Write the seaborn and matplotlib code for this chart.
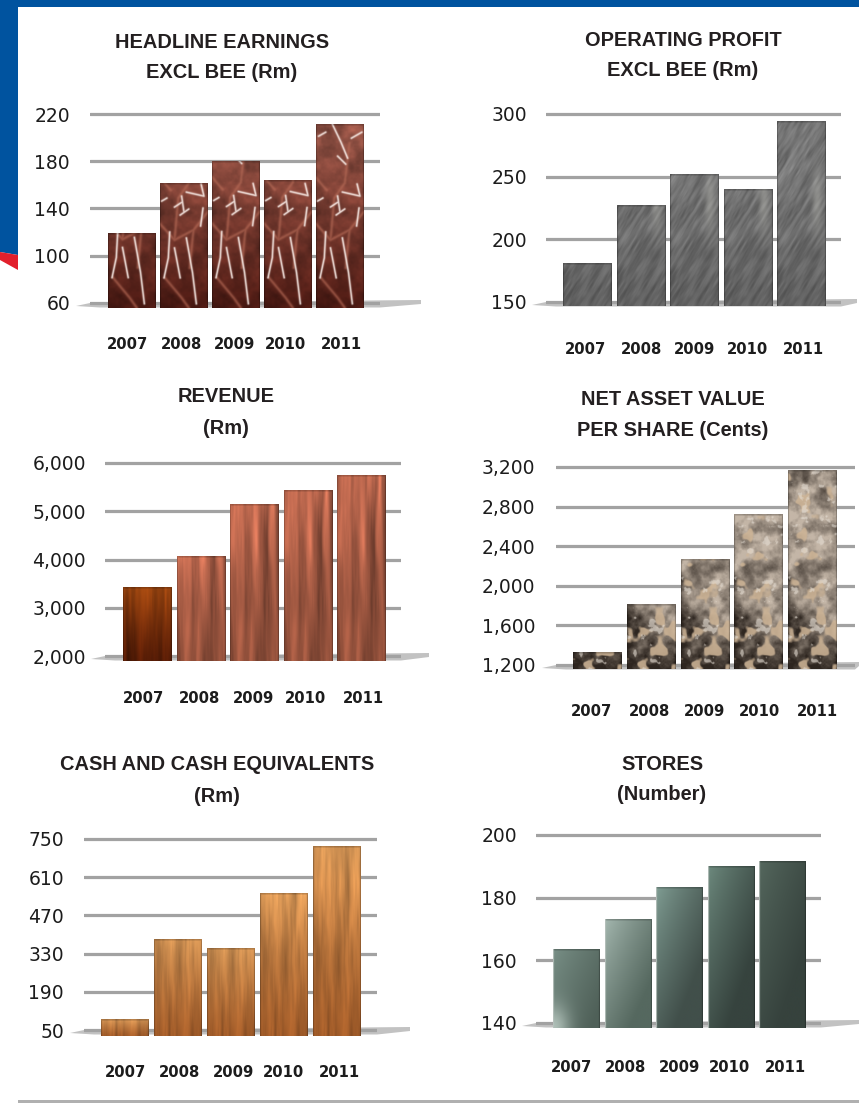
import numpy as np
import pandas as pd
import matplotlib
matplotlib.use("Agg")
import matplotlib.pyplot as plt
from matplotlib.patches import Polygon, Rectangle
from matplotlib.colors import to_rgb
import seaborn as sns

W, H = 859, 1103
years = ["2007", "2008", "2009", "2010", "2011"]

headline = [118.5, 161.5, 179.5, 163.5, 211.5]
operating = [181, 227, 252, 240, 294]
revenue = [3430, 4052, 5130, 5440, 5751]
nav = [1331, 1816, 2270, 2725, 3160]
cash = [87, 380, 347, 552, 724]
stores = [163.6, 172.9, 183.4, 189.8, 191.7]

ticks_headline = [60, 100, 140, 180, 220]
ticks_operating = [150, 200, 250, 300]
ticks_revenue = [2000, 3000, 4000, 5000, 6000]
ticks_nav = [1200, 1600, 2000, 2400, 2800, 3200]
ticks_cash = [50, 190, 330, 470, 610, 750]
ticks_stores = [140, 160, 180, 200]

title_headline = ["HEADLINE EARNINGS", "EXCL BEE (Rm)"]
title_operating = ["OPERATING PROFIT", "EXCL BEE (Rm)"]
title_revenue = ["REVENUE", "(Rm)"]
title_nav = ["NET ASSET VALUE", "PER SHARE (Cents)"]
title_cash = ["CASH AND CASH EQUIVALENTS", "(Rm)"]
title_stores = ["STORES", "(Number)"]

panels = [
    dict(vals=headline, ticks=ticks_headline, title=title_headline, tx=222, ty=(42, 72),
         gx=(90, 380), gy=(114, 303), base=308, bar0=107.5, step=52.1, bw=47.5, lab=(127, 181, 235, 286, 341),
         laby=343, tickr=70, shadow=421, kind="red"),
    dict(vals=operating, ticks=ticks_operating, title=title_operating, tx=683, ty=(39, 70),
         gx=(546, 841), gy=(114, 302), base=306, bar0=563, step=53.5, bw=49, lab=(586, 641, 695, 747, 803),
         laby=348, tickr=527, shadow=857, kind="gray"),
    dict(vals=revenue, ticks=ticks_revenue, title=title_revenue, tx=226, ty=(396, 427),
         gx=(105, 401), gy=(463, 656), base=661, bar0=123, step=53.5, bw=48.5, lab=(144, 199, 254, 306, 363),
         laby=697, tickr=86, shadow=429, kind="wood"),
    dict(vals=nav, ticks=ticks_nav, title=title_nav, tx=673, ty=(399, 429),
         gx=(556, 855), gy=(467, 665), base=669, bar0=573, step=53.8, bw=49, lab=(591, 649, 705, 760, 817),
         laby=710, tickr=535, shadow=859, kind="stone"),
    dict(vals=cash, ticks=ticks_cash, title=title_cash, tx=217, ty=(764, 795),
         gx=(84, 377), gy=(839, 1030), base=1036, bar0=101, step=53, bw=48, lab=(125, 179, 234, 284, 339),
         laby=1071, tickr=64, shadow=410, kind="oak"),
    dict(vals=stores, ticks=ticks_stores, title=title_stores, tx=662, ty=(763, 794),
         gx=(536, 821), gy=(835, 1023), base=1028, bar0=553, step=51.5, bw=47, lab=(572, 626, 680, 730, 785),
         laby=1066, tickr=517, shadow=859, kind="green"),
]

GREEN = [("#7a9188", "#4f6058"), ("#a7bab2", "#55685f"), ("#82a096", "#414f4a"),
         ("#6f8c80", "#36433e"), ("#56695f", "#36423d")]

# marble veins on the red bars: (fraction across the bar, px above its foot)
WHITE_VEINS = [
    [(0.55, 70), (0.68, 35), (0.76, 4)],
    [(0.2, 76), (0.17, 50), (0.08, 30)],
    [(0.3, 60), (0.42, 30)],
    [(0.03, 107), (0.14, 110)],
    [(0.3, 101), (0.46, 106)],
    [(0.42, 93), (0.6, 99)],
    [(0.55, 116), (0.92, 112), (0.86, 124)],
    [(0.9, 100), (0.85, 82)],
    [(0.45, 112), (0.5, 96)],
    [(0.05, 172), (0.2, 176)],
    [(0.32, 186), (0.52, 166), (0.66, 150)],
    [(0.74, 170), (0.96, 176)],
    [(0.45, 152), (0.62, 144)],
]
COPPER_VEINS = [
    [(0.0, 84), (0.3, 68), (0.7, 78), (1.0, 96)],
    [(0.1, 30), (0.45, 10), (0.6, 0)],
    [(0.3, 68), (0.38, 110), (0.6, 125), (0.7, 165)],
    [(0.7, 78), (0.62, 40)],
    [(0.0, 130), (0.22, 118)],
]


def _lattice(ix, iy, seed):
    v = np.sin(ix * 127.1 + iy * 311.7 + seed * 74.7) * 43758.5453
    return v - np.floor(v)


def vnoise(x, y, seed):
    ix, iy = np.floor(x), np.floor(y)
    fx_, fy_ = x - ix, y - iy
    sx, sy = fx_ * fx_ * (3 - 2 * fx_), fy_ * fy_ * (3 - 2 * fy_)
    a = _lattice(ix, iy, seed) * (1 - sx) + _lattice(ix + 1, iy, seed) * sx
    b = _lattice(ix, iy + 1, seed) * (1 - sx) + _lattice(ix + 1, iy + 1, seed) * sx
    return a * (1 - sy) + b * sy


def fbm(x, y, seed, oct=4):
    tot, amp, norm = 0.0, 1.0, 0.0
    for k in range(oct):
        tot = tot + amp * vnoise(x * 2 ** k, y * 2 ** k, seed + k)
        norm += amp
        amp *= 0.55
    return tot / norm


def vein_mask(paths, x, yy, width):
    """Closeness of each texel to a set of polylines (measured in px)."""
    X = x * 48
    out = np.zeros_like(x)
    for path in paths:
        for (x0, y0), (x1, y1) in zip(path[:-1], path[1:]):
            ax_, bx = x0 * 48, x1 * 48
            dx, dy = bx - ax_, y1 - y0
            s = np.clip(((X - ax_) * dx + (yy - y0) * dy) / (dx * dx + dy * dy), 0, 1)
            d = np.hypot(X - (ax_ + s * dx), yy - (y0 + s * dy))
            out = np.maximum(out, np.exp(-(d / width) ** 2))
    return out


def ramp(a, b, u):
    a, b = np.array(to_rgb(a)), np.array(to_rgb(b))
    return a + (b - a) * np.clip(u, 0, 1)[..., None]


def texture(kind, idx, h_px):
    """Bar surface: yy counts px upward from the bar's foot, so short bars show the lower part of the image."""
    ny = max(8, int(h_px * 2))
    nx = 100
    x, yy = np.meshgrid(np.linspace(0, 1, nx), np.linspace(h_px, 0, ny))
    y = yy / 190
    t = 1 - yy / h_px  # 0 at top of this bar
    if kind == "red":
        img = ramp("#4d1a13", "#8e4f42", y * 1.15)
        n = fbm(x * 4, y * 16, 3)
        img = img * (0.68 + 0.64 * n)[..., None]
        cop = vein_mask(COPPER_VEINS, x, yy, 1.5)
        img = img + (np.array([0.72, 0.42, 0.34]) - img) * (0.6 * cop)[..., None]
        wh = vein_mask(WHITE_VEINS, x, yy, 1.0)
        img = img + (np.array([0.98, 0.93, 0.91]) - img) * (0.95 * wh)[..., None]
    elif kind == "gray":
        img = ramp("#606060", "#767676", y * 1.4)
        X = x * 0.25
        along, across = X * 0.5 + y * 0.87, X * 0.87 - y * 0.5
        st = fbm(across * 70, along * 9, 11, 3)
        img = img * (0.72 + 0.56 * st)[..., None]
        patch = np.exp(-((x - 0.82) / 0.1) ** 2 - ((y - 0.55) / 0.15) ** 2)
        img = img + (np.array([0.66, 0.66, 0.64]) - img) * (0.55 * patch)[..., None]
    elif kind == "wood":
        a, b = ("#551c06", "#9a4510") if idx == 0 else ("#8a4c38", "#c06a50")
        img = ramp(a, b, (1 - t) ** 1.3)
        g = fbm(x * 9 + idx * (idx > 0) * 0 + 0.4 * fbm(x * 2, y * 3, 5, 2), y * 1.6, 21 if idx else 22, 4)
        img = img * (0.55 + 0.9 * g)[..., None]
    elif kind == "stone":
        base = np.clip(y / 0.5, 0, 1)
        f = fbm(x * 4, y * 15, 31, 5) - 0.5
        u = np.clip(0.12 + 0.62 * base + 1.5 * f, 0, 1)
        img = ramp("#2e2620", "#c4b6a7", u)
        tan = np.clip((fbm(x * 3, y * 10, 41, 3) - 0.6) / 0.06, 0, 1)
        img = img + (np.array([0.81, 0.71, 0.59]) - img) * (0.85 * tan)[..., None]
        w = np.clip((fbm(x * 6, y * 24, 51, 4) - 0.66) / 0.05, 0, 1)
        img = img + (np.array([0.90, 0.87, 0.83]) - img) * (0.6 * w)[..., None]
    elif kind == "oak":
        img = ramp("#a35d2a", "#d59555", (1 - t) ** 1.2)
        g = fbm(x * 12 + 0.4 * fbm(x * 2, y * 3, 6, 2), y * 2.5, 61, 4)
        img = img * (0.72 + 0.56 * g)[..., None]
    else:
        tl, br = GREEN[idx]
        v = np.clip(0.62 * x + 0.75 * t * min(1, h_px / 120), 0, 1)
        img = ramp(tl, br, v ** 0.8)
        if idx == 0:
            glow = np.exp(-(x / 0.35) ** 2 - ((1 - t) / 0.3) ** 2)
            img = img + (np.array([0.78, 0.84, 0.81]) - img) * (0.75 * glow)[..., None]
    # rim: dark on the sides, thin dark line on top
    rim = np.ones_like(x)
    rim[:, :2] = 0.72
    rim[:, -2:] = 0.72
    rim[:3, :] = 0.8
    img = img * rim[..., None]
    if kind == "green":
        img[:, :2] = np.array([0.72, 0.76, 0.74])
    return np.clip(img, 0, 1)


sns.set_theme(style="white")
plt.rcParams["font.family"] = ["DejaVu Sans"]
fig = plt.figure(figsize=(W / 100, H / 100), dpi=100, facecolor="white")


def fx(p):
    return p / W


def fy(p):
    return 1 - p / H


# page furniture
fig.add_artist(Rectangle((0, fy(7)), 1, 7 / H, transform=fig.transFigure, color="#00539f", lw=0))
fig.add_artist(Polygon([(fx(0), fy(0)), (fx(18), fy(0)), (fx(18), fy(255)), (fx(0), fy(252))],
                       transform=fig.transFigure, color="#00539f", lw=0))
fig.add_artist(Polygon([(fx(0), fy(252)), (fx(18), fy(255)), (fx(18), fy(270)), (fx(0), fy(260))],
                       transform=fig.transFigure, color="#e2202c", lw=0))
fig.add_artist(Rectangle((fx(18), fy(1103)), 1, 3 / H, transform=fig.transFigure, color="#b0b0b0", lw=0))

for p in panels:
    L, R = p["gx"]
    top_px, bot_px = p["gy"]
    vt, vb = p["ticks"][-1], p["ticks"][0]
    per_px = (vt - vb) / (bot_px - top_px)
    ax_top = top_px - 3
    ax_bot = p["base"]
    ax = fig.add_axes([fx(L), fy(ax_bot), (R - L) / W, (ax_bot - ax_top) / H], zorder=2)
    ax.patch.set_alpha(0)

    # floor shadow: thin wedge under the bars, running out to the right
    sh = p["shadow"]
    fig.add_artist(Polygon([(fx(L - 14), fy(bot_px + 3)), (fx(L), fy(bot_px)), (fx(sh), fy(bot_px - 3)),
                            (fx(sh), fy(bot_px + 1)), (fx(R), fy(bot_px + 4.5)), (fx(L + 10), fy(bot_px + 4.5))],
                           transform=fig.transFigure, color="#c2c2c2", lw=0, zorder=1))

    df = pd.DataFrame({"year": years, "value": p["vals"]})
    sns.barplot(data=df, x="year", y="value", ax=ax, color="#777777", saturation=1,
                width=p["bw"] / p["step"], zorder=3, linewidth=0)

    c0 = p["bar0"] + p["bw"] / 2
    xl = ((L - c0) / p["step"], (R - c0) / p["step"])
    yl = (vb - (ax_bot - bot_px) * per_px, vt + (top_px - ax_top) * per_px)

    for i, bar in enumerate(ax.patches):
        h = bar.get_height()
        tex = texture(p["kind"], i, (h - yl[0]) / per_px)
        ax.imshow(tex, extent=(bar.get_x(), bar.get_x() + bar.get_width(), yl[0], h),
                  aspect="auto", zorder=3.5, interpolation="bilinear")

    ax.set_xlim(*xl)
    ax.set_ylim(*yl)
    ax.set_yticks(p["ticks"])
    ax.set_yticklabels([f"{v:,}" for v in p["ticks"]], fontsize=13.5, color="#1c1c1c")
    ax.set_xticks([(c - c0) / p["step"] for c in p["lab"]])
    ax.set_xticklabels(years, fontsize=10.6, fontweight="bold", color="#1c1c1c")
    ax.tick_params(axis="y", length=0, pad=(L - p["tickr"]) * 0.72)
    ax.tick_params(axis="x", length=0, pad=(p["laby"] - 6 - ax_bot) * 0.72)
    ax.set_xlabel("")
    ax.set_ylabel("")
    sns.despine(ax=ax, left=True, bottom=True)
    ax.set_axisbelow(True)
    ax.grid(axis="y", color="#a2a2a2", lw=2.3, zorder=1)
    ax.grid(axis="x", visible=False)

    for line, y in zip(p["title"], p["ty"]):
        fig.text(fx(p["tx"]), fy(y + 1), line, ha="center", va="center", fontsize=14.4, fontweight="bold",
                 family="Liberation Sans", color="#231f20")

fig.savefig("out.png", dpi=100)
